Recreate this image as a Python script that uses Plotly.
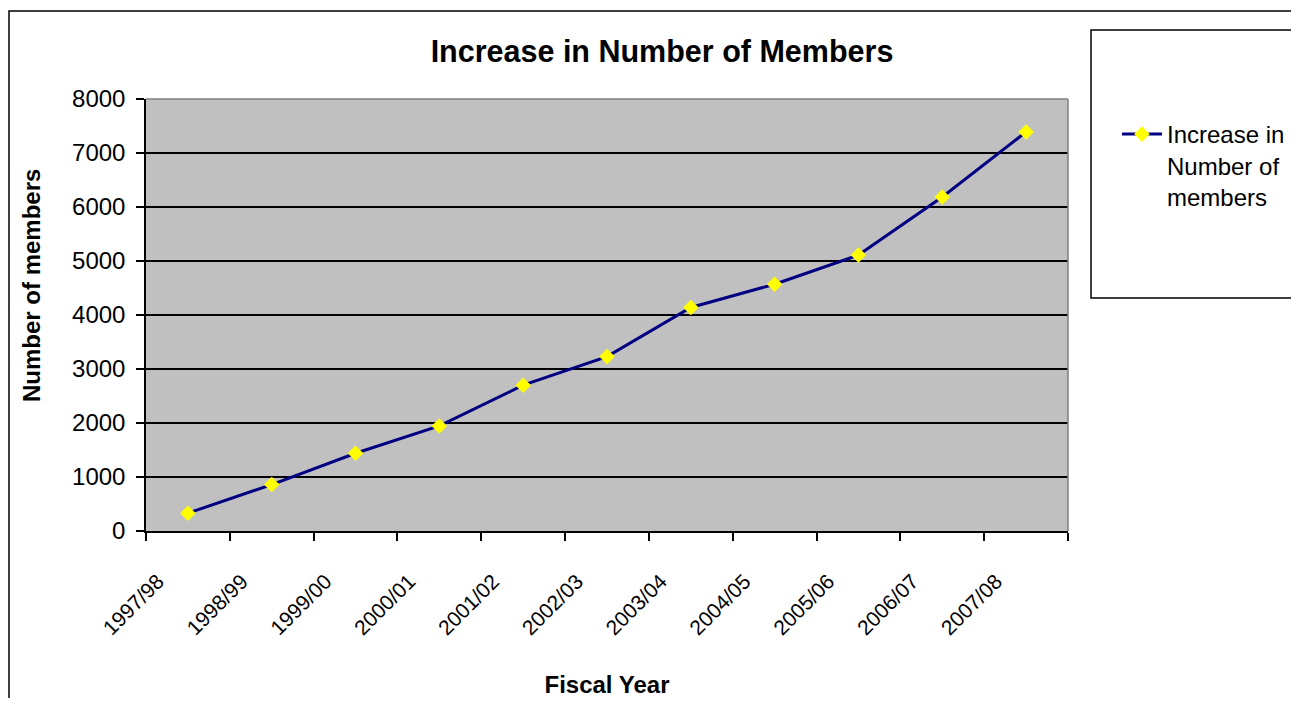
import plotly.graph_objects as go

years = ["1997/98", "1998/99", "1999/00", "2000/01", "2001/02", "2002/03",
         "2003/04", "2004/05", "2005/06", "2006/07", "2007/08"]
members = [330, 860, 1440, 1945, 2700, 3230, 4140, 4570, 5110, 6185, 7390]
y_ticks = [0, 1000, 2000, 3000, 4000, 5000, 6000, 7000, 8000]

# page body has an 8px margin on every side; keep the page exactly 1299x706
OFF = 8
W, H = 1299 - 2 * OFF, 706 - 2 * OFF
L, R, T, B = 146, 1068, 99, 531   # plot area in reference pixel coordinates
pw, ph = R - L, B - T

def px(x):
    return (x - L) / pw

def py(y):
    return (B - y) / ph

FONT = "Arial, Liberation Sans, sans-serif"

fig = go.Figure()
fig.add_trace(go.Scatter(
    x=years, y=members, mode="lines+markers",
    name="Increase in<br>Number of<br>members",
    line=dict(color="#000080", width=3),
    marker=dict(symbol="diamond", size=12, color="#FFFF00", line=dict(width=0)),
))

fig.update_layout(
    width=W, height=H,
    margin=dict(l=L - OFF, r=W - (R - OFF), t=T - OFF, b=H - (B - OFF), autoexpand=False),
    paper_bgcolor="white", plot_bgcolor="#C0C0C0",
    font=dict(family=FONT, color="black", size=24),
    title=dict(text="<b>Increase in Number of Members</b>", x=px(662), xref="paper",
               xanchor="center", y=1 - (51 - OFF) / H, yanchor="middle",
               font=dict(size=30.5, family=FONT)),
    showlegend=True,
    legend=dict(x=px(1117), y=py(112), xanchor="left", yanchor="top",
                bgcolor="rgba(0,0,0,0)", borderwidth=0, valign="top",
                font=dict(size=24, family=FONT), itemwidth=40),
    xaxis=dict(type="category", range=[-0.5, 10.5], tickson="boundaries",
               ticks="outside", ticklen=8, tickwidth=1.5, tickcolor="black",
               showline=True, linecolor="black", linewidth=1.5, automargin=False,
               showgrid=False, tickangle=-45, tickfont=dict(size=21, family=FONT),
               ticklabelshift=-30, ticklabelstandoff=28,
               title=dict(text="<b>Fiscal Year</b>", font=dict(size=24, family=FONT),
                          standoff=45)),
    yaxis=dict(range=[0, 8000], tickvals=y_ticks, ticks="outside", ticklen=8,
               tickwidth=1.5, tickcolor="black", showline=True, linecolor="black",
               linewidth=1.5, showgrid=True, gridcolor="black", gridwidth=1.5,
               zeroline=False, tickfont=dict(size=24, family=FONT), automargin=False,
               ticklabelstandoff=6),
)

# y-axis title placed where the reference has it (above the plot centre)
fig.add_annotation(text="<b>Number of members</b>", xref="paper", yref="paper",
                   x=px(31), y=py(286), xanchor="center", yanchor="middle",
                   textangle=-90, showarrow=False, font=dict(size=24, family=FONT))

# gray top/right plot border
fig.add_shape(type="line", xref="paper", yref="paper", x0=0, x1=1, y0=1, y1=1,
              line=dict(color="#808080", width=1.5))
fig.add_shape(type="line", xref="paper", yref="paper", x0=1, x1=1, y0=0, y1=1,
              line=dict(color="#808080", width=1.5))
# outer chart border (cut off at right/bottom)
fig.add_shape(type="rect", xref="paper", yref="paper",
              x0=px(9), x1=px(1320), y0=py(720), y1=py(11),
              line=dict(color="black", width=1.5), fillcolor="rgba(0,0,0,0)", layer="below")
# legend box
fig.add_shape(type="rect", xref="paper", yref="paper",
              x0=px(1091), x1=px(1320), y0=py(298), y1=py(30),
              line=dict(color="black", width=1.5), fillcolor="white", layer="below")

fig.write_html("out.html")
